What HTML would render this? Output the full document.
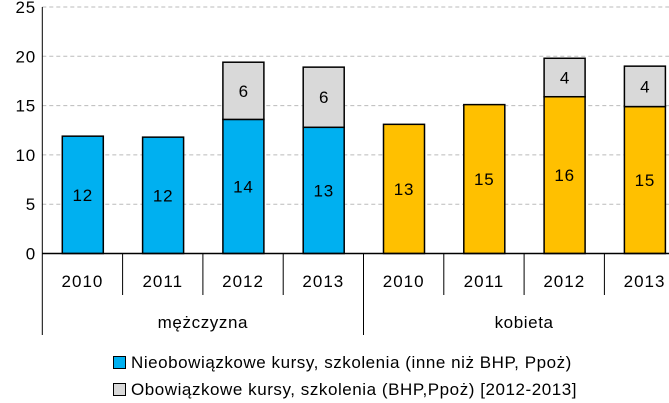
<!DOCTYPE html>
<html><head><meta charset="utf-8"><style>
body{margin:0;background:#fff}
svg{display:block;font-family:"Liberation Sans",sans-serif}
</style></head><body>
<svg id="c" width="669" height="403"></svg>
<script>
const groups=["mężczyzna","kobieta"];
const years=["2010","2011","2012","2013"];
const nonMandatory=[11.9,11.8,13.6,12.8,13.1,15.1,15.9,14.9];
const nonMandatoryLabels=["12","12","14","13","13","15","16","15"];
const mandatory=[0,0,5.8,6.1,0,0,3.9,4.1];
const mandatoryLabels=["","","6","6","","","4","4"];
const yTicks=[0,5,10,15,20,25];
const colors=["#00b0f0","#ffc000"];
const svg=document.getElementById('c');
const NS="http://www.w3.org/2000/svg";
const x0=42.3,cw=80.3,y0=253.5,ys=9.86;
const y=v=>y0-v*ys;
function mk(t,a,p){const e=document.createElementNS(NS,t);for(const k in a)e.setAttribute(k,a[k]);(p||svg).appendChild(e);return e;}
yTicks.forEach(t=>{
 if(t>0){const g=mk('line',{x1:x0,x2:669,y1:y(t),y2:y(t),stroke:'#bbb','stroke-dasharray':'4,3'});
 
 }
 const l=mk('text',{x:36,y:y(t)+6,'text-anchor':'end','font-size':17,'letter-spacing':0.8,fill:'#000'});l.textContent=t;
 
 
});
nonMandatory.forEach((v,i)=>{
 const bx=x0+i*cw+20,bw=41,c=colors[Math.floor(i/4)];
 const r=mk('rect',{x:bx,y:y(v),width:bw,height:v*ys,fill:c,stroke:'#000','stroke-width':1.5});
 
 
 const t=mk('text',{x:bx+bw/2,y:y(v/2)+6,'text-anchor':'middle','font-size':17,'letter-spacing':0.8});t.textContent=nonMandatoryLabels[i];
 
 
 const m=mandatory[i];
 if(m>0){
  const r2=mk('rect',{x:bx,y:y(v+m),width:bw,height:m*ys,fill:'#d9d9d9',stroke:'#000','stroke-width':1.5});
  
  
  const t2=mk('text',{x:bx+bw/2,y:y(v+m/2)+6,'text-anchor':'middle','font-size':17});t2.textContent=mandatoryLabels[i];
  
  
 }
 const yl=mk('text',{x:x0+i*cw+cw/2,y:287,'text-anchor':'middle','font-size':17,'letter-spacing':1});yl.textContent=years[i%4];
 
 
 const tk=mk('line',{x1:x0+(i+1)*cw,x2:x0+(i+1)*cw,y1:y0,y2:(i%4==3)?335:295,stroke:'#000'});
 
 
});
groups.forEach((g,j)=>{
 const t=mk('text',{x:x0+j*4*cw+2*cw,y:328,'text-anchor':'middle','font-size':17,'letter-spacing':0.6});t.textContent=g;
 
 
});
const ya=mk('line',{x1:x0,x2:x0,y1:7,y2:335,stroke:'#000'});


const xa=mk('line',{x1:x0,x2:669,y1:y0,y2:y0,stroke:'#000','stroke-width':1.5});


const leg=[["#00b0f0","Nieobowiązkowe kursy, szkolenia (inne niż BHP, Ppoż)",356],["#d9d9d9","Obowiązkowe kursy, szkolenia (BHP,Ppoż) [2012-2013]",383]];
leg.forEach((l,i)=>{
 const s=mk('rect',{x:113.5,y:l[2]+0.5,width:12,height:12,fill:l[0],stroke:'#000'});
 
 
 const t=mk('text',{x:131,y:l[2]+12,'font-size':17,'letter-spacing':0.55});t.textContent=l[1];
 
 
});
</script>
</body></html>
